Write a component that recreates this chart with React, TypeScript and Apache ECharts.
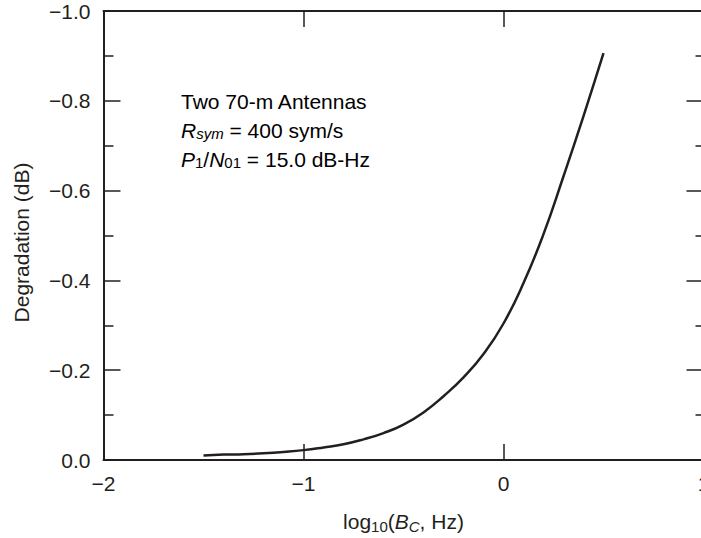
import React, { useEffect, useRef } from "react";
import * as echarts from "echarts";

const xValues = [-1.5, -1.4, -1.3, -1.2, -1.1, -1.0, -0.9, -0.8, -0.7, -0.6, -0.5, -0.4, -0.3, -0.2, -0.1, 0.0, 0.1, 0.2, 0.3, 0.4, 0.5];
const degradation = [-0.010, -0.012, -0.013, -0.015, -0.018, -0.022, -0.028, -0.035, -0.046, -0.060, -0.079, -0.106, -0.142, -0.184, -0.236, -0.304, -0.394, -0.503, -0.632, -0.766, -0.906];
const xTicks = [-2, -1, 0, 1];
const yTicks = [-1.0, -0.8, -0.6, -0.4, -0.2, 0.0];
const annotationLines = ["Two 70-m Antennas", "R_sym = 400 sym/s", "P_1/N_01 = 15.0 dB-Hz"];

const FONT = "'Liberation Sans', Arial, Helvetica, sans-serif";
const INK = "#231f20";
const FS = 21;
const SFS = 15;

const fmtY = (v: number) => (Math.abs(v) < 1e-9 ? "0.0" : "\u2212" + Math.abs(v).toFixed(1));
const fmtX = (v: number) => (v < 0 ? "\u2212" + Math.abs(v) : String(v));

const makeRich = (lh: number, subPad: number) => ({
  n: { fontSize: FS, fontFamily: FONT, color: INK, verticalAlign: "top", lineHeight: lh },
  i: { fontSize: FS, fontFamily: FONT, color: INK, fontStyle: "italic", verticalAlign: "top", lineHeight: lh },
  s: { fontSize: SFS, fontFamily: FONT, color: INK, verticalAlign: "top", lineHeight: lh, padding: [subPad, 0, 0, 0] },
  si: { fontSize: SFS, fontFamily: FONT, color: INK, fontStyle: "italic", verticalAlign: "top", lineHeight: lh, padding: [subPad, 0, 0, 0] },
});

export default function App() {
  const ref = useRef<HTMLDivElement>(null);
  useEffect(() => {
    if (!ref.current) return;
    const chart = echarts.init(ref.current, null, { renderer: "svg" });
    const data = xValues.map((x, k) => [x, degradation[k]]);
    const annoText = [
      "{n|" + annotationLines[0] + "}",
      "{i|R}{si|sym}{n| = 400 sym/s}",
      "{i|P}{s|1}{n|/}{i|N}{s|01}{n| = 15.0 dB-Hz}",
    ];
    const axisLine = { show: true, onZero: false, lineStyle: { color: INK, width: 2 } };
    chart.setOption({
      animation: false,
      backgroundColor: "#ffffff",
      grid: { left: 103.5, top: 11, width: 600, height: 449, containLabel: false, outerBoundsMode: "none" },
      xAxis: [
        {
          type: "value",
          position: "bottom",
          min: xTicks[0],
          max: xTicks[xTicks.length - 1],
          interval: 1,
          axisLine,
          axisTick: { show: true, inside: true, length: 16, lineStyle: { color: INK, width: 1.5 } },
          axisLabel: { formatter: fmtX, fontSize: FS, fontFamily: FONT, color: INK, margin: 13 },
          splitLine: { show: false },
          name: "{n|log}{s|10}{n|(}{i|B}{si|C}{n|, Hz)}",
          nameLocation: "middle",
          nameGap: 51,
          nameTextStyle: { rich: makeRich(24, 8) },
        },
        {
          type: "value",
          position: "top",
          min: xTicks[0],
          max: xTicks[xTicks.length - 1],
          interval: 1,
          axisLine,
          axisTick: { show: true, inside: true, length: 16, lineStyle: { color: INK, width: 1.5 } },
          axisLabel: { show: false },
          splitLine: { show: false },
        },
      ],
      yAxis: [
        {
          type: "value",
          position: "left",
          inverse: true,
          min: yTicks[0],
          max: yTicks[yTicks.length - 1],
          interval: 0.2,
          axisLine,
          axisTick: { show: true, inside: true, length: 17, lineStyle: { color: INK, width: 1.5 } },
          minorTick: { show: true, splitNumber: 2, length: 10, lineStyle: { color: INK, width: 1.5 } },
          axisLabel: { formatter: fmtY, fontSize: FS, fontFamily: FONT, color: INK, margin: 13 },
          splitLine: { show: false },
          name: "Degradation (dB)",
          nameLocation: "middle",
          nameGap: 72,
          nameRotate: 90,
          nameTextStyle: { fontSize: FS, fontFamily: FONT, color: INK, padding: [0, 14, 0, 0] },
        },
        {
          type: "value",
          position: "right",
          inverse: true,
          min: yTicks[0],
          max: yTicks[yTicks.length - 1],
          interval: 0.2,
          axisLine,
          axisTick: { show: true, inside: true, length: 17, lineStyle: { color: INK, width: 1.5 } },
          minorTick: { show: true, splitNumber: 2, length: 8, lineStyle: { color: INK, width: 1.5 } },
          axisLabel: { show: false },
          splitLine: { show: false },
        },
      ],
      series: [
        {
          type: "line",
          data,
          xAxisIndex: 0,
          yAxisIndex: 0,
          showSymbol: false,
          smooth: 0.5,
          lineStyle: { color: INK, width: 2.5 },
        },
      ],
      graphic: [
        {
          type: "text",
          left: 181,
          top: 91,
          style: {
            text: annoText.join("\n"),
            rich: makeRich(29, 6),
          },
        },
      ],
    });
    return () => chart.dispose();
  }, []);
  return <div ref={ref} style={{ position: "fixed", left: 0, top: 0, width: 701, height: 538 }} />;
}
